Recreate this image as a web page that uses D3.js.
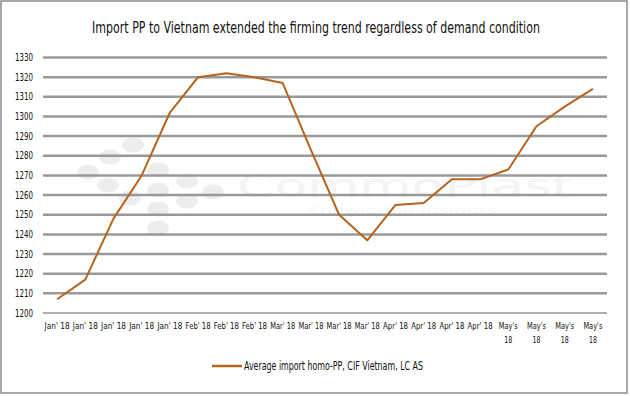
<!DOCTYPE html>
<meta charset="utf-8">
<style>
    body { margin: 0; background: #fff; }
    text { font-family: "Liberation Sans Narrow", "DejaVu Sans Condensed", "Arial Narrow", sans-serif; fill: #111; }
</style>

<svg width="630" height="396"></svg>

<script src="https://cdn.jsdelivr.net/npm/d3@7/dist/d3.min.js"></script>

<script>
    var months = ["Jan' 18", "Jan' 18", "Jan' 18", "Jan' 18", "Jan' 18",
                  "Feb' 18", "Feb' 18", "Feb' 18",
                  "Mar' 18", "Mar' 18", "Mar' 18", "Mar' 18",
                  "Apr' 18", "Apr' 18", "Apr' 18", "Apr' 18",
                  "May's 18", "May's 18", "May's 18", "May's 18"];
    var prices = [1207, 1217, 1248, 1270, 1302, 1320, 1322, 1320, 1317, 1283,
                  1250, 1237, 1255, 1256, 1268, 1268, 1273, 1295, 1305, 1314];
    var yTicks = d3.range(1200, 1331, 10);
    var title = "Import PP to Vietnam extended the firming trend regardless of demand condition";
    var seriesName = "Average import homo-PP, CIF Vietnam, LC AS";

    (function () {
        var svg = d3.select("svg"),
            left = 43, right = 607, top = 57.5, bottom = 313,
            x = d3.scaleBand().domain(d3.range(prices.length)).range([left, right]),
            y = d3.scaleLinear().domain([1200, 1330]).range([bottom, top]),
            brown = "#b4641e";

        // outer frame
        svg.append("rect")
            .attr("x", 1).attr("y", 1).attr("width", 626).attr("height", 392)
            .attr("fill", "none").attr("stroke", "#8c8c8c").attr("stroke-width", 1.5);

        // faint watermark
        var wm = svg.append("g").attr("fill", "#eceeed");
        [[133,145],[110,157],[88,172],[108,185],[130,198],[158,170],[187,181],
         [213,192],[158,190],[187,201],[158,209],[158,228]].forEach(function (p) {
            wm.append("ellipse").attr("cx", p[0]).attr("cy", p[1]).attr("rx", 11).attr("ry", 7.5);
        });
        wm.append("text").attr("x", 237).attr("y", 197)
            .attr("textLength", 336).attr("lengthAdjust", "spacingAndGlyphs")
            .style("font-family", "DejaVu Sans").style("font-size", "32px").style("fill", "#f3f4f4")
            .text("CommoPlast");
        wm.append("text").attr("x", 307).attr("y", 214)
            .attr("textLength", 190).attr("lengthAdjust", "spacingAndGlyphs")
            .style("font-family", "DejaVu Sans").style("font-size", "10px").style("fill", "#f6f7f7")
            .text("Knowledge insights");

        // gridlines
        svg.append("g").selectAll("line")
            .data(yTicks)
            .enter().append("line")
            .attr("x1", left).attr("x2", right)
            .attr("y1", function (d) { return y(d); })
            .attr("y2", function (d) { return y(d); })
            .attr("stroke", function (d) { return d === 1200 ? "#b0b0b0" : "#999"; })
            .attr("stroke-width", function (d) { return d === 1200 ? 2 : 2.5; });

        // y labels
        svg.append("g").selectAll("text")
            .data(yTicks)
            .enter().append("text")
            .attr("x", 15)
            .attr("y", function (d) { return y(d); })
            .attr("dy", "0.35em")
            .attr("textLength", 18).attr("lengthAdjust", "spacingAndGlyphs")
            .style("font-size", "10px")
            .text(function (d) { return d; });

        // x labels
        var xl = svg.append("g").selectAll("text")
            .data(months)
            .enter().append("text")
            .attr("x", function (d, i) { return x(i) + x.bandwidth() / 2; })
            .attr("y", 329)
            .attr("text-anchor", "middle")
            .style("font-size", "9px");
        xl.each(function (d) {
            var t = d3.select(this), x0 = t.attr("x");
            if (d.indexOf("May") === 0) {
                var parts = d.split(" ");
                t.append("tspan").attr("x", x0)
                    .attr("textLength", 19).attr("lengthAdjust", "spacingAndGlyphs").text(parts[0]);
                t.append("tspan").attr("x", x0).attr("dy", 14)
                    .attr("textLength", 8).attr("lengthAdjust", "spacingAndGlyphs").text(parts[1]);
            } else {
                t.attr("textLength", 25).attr("lengthAdjust", "spacingAndGlyphs").text(d);
            }
        });

        // line
        var line = d3.line()
            .x(function (d, i) { return x(i) + x.bandwidth() / 2; })
            .y(function (d) { return y(d); });
        svg.append("path")
            .datum(prices)
            .attr("d", line)
            .attr("fill", "none")
            .attr("stroke", brown)
            .attr("stroke-width", 2)
            .attr("stroke-linejoin", "round");

        // title - squeeze horizontally to the reference width
        var tt = svg.append("text")
            .attr("text-anchor", "middle")
            .style("font-size", "15px")
            .text(title);
        var sx = 448 / tt.node().getComputedTextLength();
        tt.attr("transform", "translate(316,33) scale(" + sx + ",1)");

        // legend
        svg.append("line")
            .attr("x1", 212).attr("x2", 242).attr("y1", 366).attr("y2", 366)
            .attr("stroke", brown).attr("stroke-width", 2.5);
        svg.append("text")
            .attr("x", 244).attr("y", 370)
            .attr("textLength", 179).attr("lengthAdjust", "spacingAndGlyphs")
            .style("font-size", "12px")
            .text(seriesName);
    })();
</script>
